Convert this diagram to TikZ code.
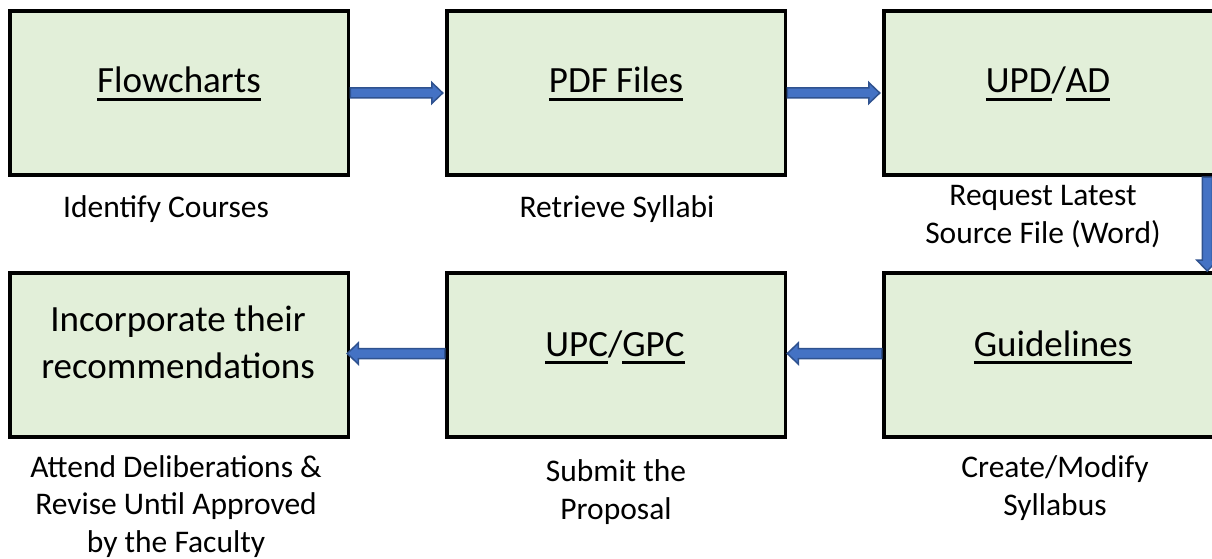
\documentclass[tikz,border=0pt]{standalone}
\usepackage{fontspec}
\setmainfont{Carlito}
\usetikzlibrary{calc}

\definecolor{boxfill}{HTML}{E2EFD9}
\definecolor{arrowfill}{HTML}{4472C4}
\definecolor{arrowline}{HTML}{2F528F}

% underlined word, rule drawn just below the baseline
\newcommand\ulword[1]{\setbox0\hbox{#1}\rlap{\rule[-7.75pt]{\wd0}{2.5pt}}\copy0}

% block arrow (shaft + triangular head) from #1 to #2
\newcommand\blockarrow[2]{%
  \coordinate (ba-h) at ($(#2)!11pt!(#1)$);
  \filldraw[blockarr]
    ($(#1)!5pt!90:(#2)$) -- ($(ba-h)!5pt!90:(#2)$) -- ($(ba-h)!10.5pt!90:(#2)$)
    -- (#2)
    -- ($(ba-h)!10.5pt!-90:(#2)$) -- ($(ba-h)!5pt!-90:(#2)$) -- ($(#1)!5pt!-90:(#2)$)
    -- cycle;}

\begin{document}
\begin{tikzpicture}[x=1pt,y=-1pt,
  stepbox/.style={draw=black, fill=boxfill, line width=3.5pt,
    minimum width=338.5pt, minimum height=164pt, inner sep=0pt, outer sep=0pt},
  title/.style={font=\fontsize{37}{47}\selectfont, align=center, inner sep=0pt, anchor=base},
  caption/.style={font=\fontsize{31.5}{37.5}\selectfont, align=center, inner sep=0pt, anchor=base},
  blockarr/.style={fill=arrowfill, draw=arrowline, line width=1.5pt, line join=miter}]
\useasboundingbox (0,0) rectangle (1212,559);
\clip (0,0) rectangle (1212,559);

% process boxes
\node[stepbox] (f1) at (179,93) {};
\node[stepbox] (f2) at (616,93) {};
\node[stepbox] (f3) at (1053,93) {};
\node[stepbox] (b4) at (179,355) {};
\node[stepbox] (b5) at (616,355) {};
\node[stepbox] (b6) at (1053,355) {};

% box titles (base anchor = baseline of the last line)
\node[title] (t1) at (179,93) {\ulword{Flowcharts}};
\node[title] (t2) at (616,93) {\ulword{PDF Files}};
\node[title] (t3) at (1048,93) {\ulword{UPD}/\ulword{AD}};
\node[title] (t4) at (178,378) {Incorporate their\\recommendations};
\node[title] (t5) at (615,356) {\ulword{UPC}/\ulword{GPC}};
\node[title] (t6) at (1053,356) {\ulword{Guidelines}};

% captions under the boxes
\node[caption] (c1) at (166,217) {Identify Courses};
\node[caption] (c2) at (617,217) {Retrieve Syllabi};
\node[caption] (c3) at (1043,243) {Request Latest\\Source File (Word)};
\node[caption] (c4) at (176,552) {Attend Deliberations \&\\Revise Until Approved\\by the Faculty};
\node[caption] (c5) at (616,519) {Submit the\\Proposal};
\node[caption] (c6) at (1055,515) {Create/Modify\\Syllabus};

% connectors
\coordinate (a1s) at ($(f1.east)+(2,0)$);
\coordinate (a1e) at ($(f2.west)+(-4,0)$);
\coordinate (a2s) at ($(f2.east)+(2,0)$);
\coordinate (a2e) at ($(f3.west)+(-4,0)$);
\coordinate (a3s) at ($(f3.south east)+(-15,2)$);
\coordinate (a3e) at ($(b6.north east)+(-15,-2)$);
\coordinate (a4s) at ($(b6.west)+(-2,-1.5)$);
\coordinate (a4e) at ($(b5.east)+(2,-1.5)$);
\coordinate (a5s) at ($(b5.west)+(-2,-1.5)$);
\coordinate (a5e) at ($(b4.east)+(-1,-1.5)$);
\blockarrow{a1s}{a1e}
\blockarrow{a2s}{a2e}
\blockarrow{a3s}{a3e}
\blockarrow{a4s}{a4e}
\blockarrow{a5s}{a5e}
\end{tikzpicture}
\end{document}
